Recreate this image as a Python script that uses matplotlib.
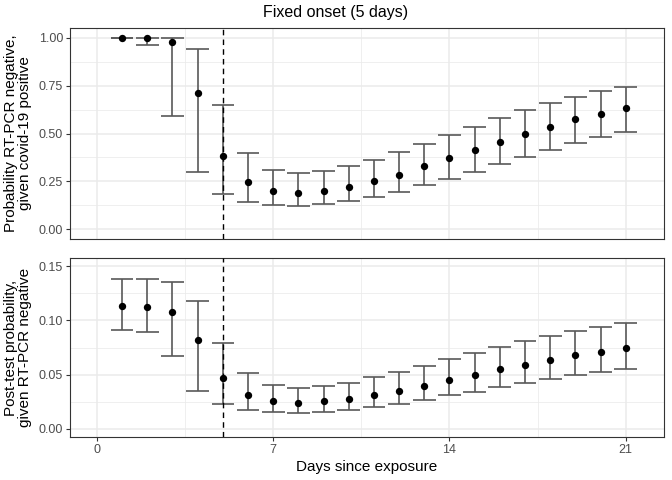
import matplotlib.pyplot as plt
import numpy as np
from matplotlib.ticker import MultipleLocator

plt.rcParams['font.family'] = ['Liberation Sans', 'DejaVu Sans']

days = list(range(1, 22))

# probability RT-PCR negative given covid-19 positive
p_neg = [1.00, 1.00, 0.978, 0.712, 0.385, 0.248, 0.202, 0.191, 0.202, 0.222, 0.252,
         0.286, 0.328, 0.370, 0.413, 0.457, 0.498, 0.536, 0.573, 0.604, 0.632]
p_neg_lo = [1.00, 0.960, 0.589, 0.298, 0.186, 0.144, 0.127, 0.120, 0.130, 0.148, 0.168,
            0.196, 0.229, 0.262, 0.300, 0.339, 0.378, 0.413, 0.448, 0.481, 0.509]
p_neg_hi = [1.00, 1.00, 1.00, 0.943, 0.647, 0.399, 0.311, 0.292, 0.302, 0.330, 0.361,
            0.401, 0.444, 0.491, 0.536, 0.582, 0.623, 0.658, 0.689, 0.719, 0.743]

# post-test probability given RT-PCR negative
post = [0.1128, 0.1126, 0.1073, 0.0817, 0.0470, 0.0308, 0.0253, 0.0241, 0.0253, 0.0274, 0.0311,
        0.0351, 0.0399, 0.0448, 0.0500, 0.0549, 0.0592, 0.0637, 0.0677, 0.0711, 0.0741]
post_lo = [0.0908, 0.0896, 0.0671, 0.0351, 0.0226, 0.0174, 0.0152, 0.0146, 0.0158, 0.0174, 0.0198,
           0.0232, 0.0265, 0.0308, 0.0344, 0.0387, 0.0424, 0.0463, 0.0494, 0.0524, 0.0552]
post_hi = [0.1384, 0.1384, 0.1351, 0.1180, 0.0796, 0.0512, 0.0402, 0.0381, 0.0399, 0.0427, 0.0479,
           0.0524, 0.0582, 0.0646, 0.0701, 0.0756, 0.0811, 0.0860, 0.0903, 0.0939, 0.0972]

onset = 5

W, H = 672, 480
fig = plt.figure(figsize=(W / 100, H / 100), dpi=100)
ax1 = fig.add_axes([70 / W, 1 - 239 / H, 594 / W, 211 / H])
ax2 = fig.add_axes([70 / W, 1 - 437 / H, 594 / W, 179 / H])


def style(ax):
    ax.set_facecolor('white')
    for s in ax.spines.values():
        s.set_color('#333333')
        s.set_linewidth(0.8)
    ax.grid(which='major', color='#ebebeb', linewidth=1.1)
    ax.grid(which='minor', color='#ebebeb', linewidth=0.55)
    ax.set_axisbelow(True)
    ax.tick_params(which='major', color='#333333', length=3, width=0.8,
                   labelsize=9, labelcolor='#4d4d4d', pad=2)
    ax.tick_params(which='minor', length=0)
    ax.set_xlim(-1.07, 22.52)
    ax.xaxis.set_major_locator(MultipleLocator(7))
    ax.xaxis.set_minor_locator(MultipleLocator(3.5))


def draw(ax, y, lo, hi):
    x = np.array(days)
    ax.vlines(x, lo, hi, color='#595959', linewidth=1.2, zorder=2)
    ax.hlines(lo, x - 0.45, x + 0.45, color='#595959', linewidth=1.2, zorder=2)
    ax.hlines(hi, x - 0.45, x + 0.45, color='#595959', linewidth=1.2, zorder=2)
    ax.axvline(onset, color='black', linestyle=(0, (4, 3)), linewidth=1.0, zorder=3)
    ax.scatter(x, y, s=28, color='black', zorder=4, linewidths=0)


style(ax1)
draw(ax1, p_neg, p_neg_lo, p_neg_hi)
ax1.set_ylim(-0.05, 1.05)
ax1.set_yticks([0, 0.25, 0.5, 0.75, 1.0])
ax1.set_yticklabels(['0.00', '0.25', '0.50', '0.75', '1.00'])
ax1.yaxis.set_minor_locator(MultipleLocator(0.125))
ax1.tick_params(axis='x', which='both', bottom=False, labelbottom=False)
ax1.set_ylabel('Probability RT-PCR negative,\ngiven covid-19 positive', fontsize=11,
               linespacing=0.95, labelpad=5)

style(ax2)
draw(ax2, post, post_lo, post_hi)
ax2.set_ylim(-0.0075, 0.1575)
ax2.set_yticks([0, 0.05, 0.10, 0.15])
ax2.set_yticklabels(['0.00', '0.05', '0.10', '0.15'])
ax2.yaxis.set_minor_locator(MultipleLocator(0.025))
ax2.set_ylabel('Post-test probability,\ngiven RT-PCR negative', fontsize=11,
               linespacing=0.95, labelpad=5)
ax2.set_xlabel('Days since exposure', fontsize=11, labelpad=3)

fig.suptitle('Fixed onset (5 days)', x=0.5, y=1 - 12 / H, va='center', fontsize=11.5)

fig.savefig('out.png', dpi=100)
